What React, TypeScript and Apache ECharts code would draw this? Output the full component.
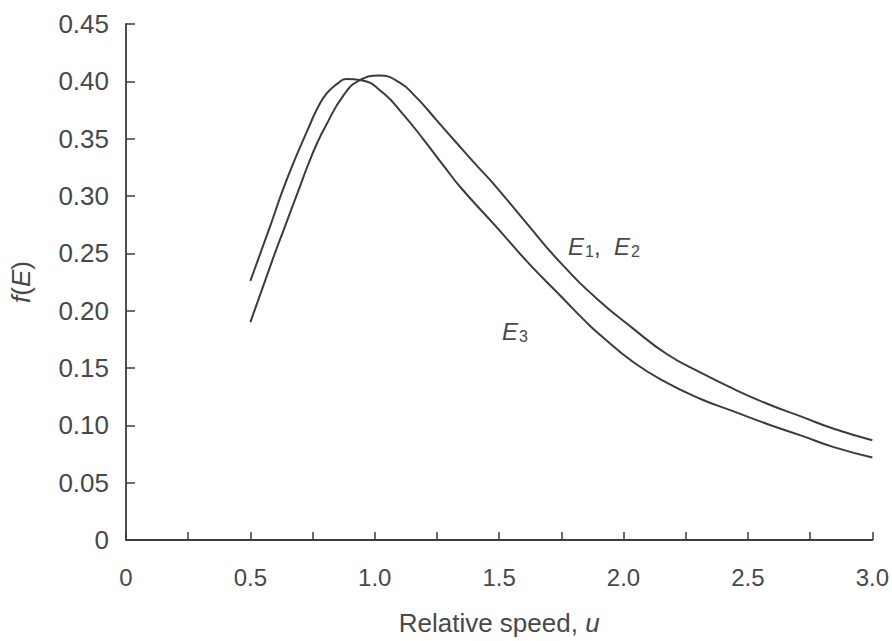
import React, { useEffect, useRef } from "react";
import * as echarts from "echarts";

// Relative speed u and f(E)
const speedE3 = [0.5, 0.58, 0.625, 0.675, 0.735, 0.766, 0.805, 0.85, 0.885, 0.945, 1.033, 1.115, 1.197, 1.278, 1.347, 1.485, 1.62, 1.755, 1.85, 1.905, 2.04, 2.175, 2.31, 2.445, 2.58, 2.715, 2.845, 3.0];
const fE3 = [0.226, 0.274, 0.302, 0.33, 0.36, 0.375, 0.389, 0.398, 0.402, 0.401, 0.39, 0.371, 0.349, 0.326, 0.307, 0.274, 0.241, 0.211, 0.19, 0.179, 0.155, 0.137, 0.123, 0.112, 0.101, 0.091, 0.081, 0.072];

const speedE12 = [0.5, 0.59, 0.64, 0.69, 0.735, 0.768, 0.8, 0.875, 0.94, 1.018, 1.099, 1.167, 1.249, 1.33, 1.412, 1.48, 1.615, 1.75, 1.895, 2.035, 2.175, 2.31, 2.44, 2.575, 2.71, 2.845, 3.0];
const fE12 = [0.19, 0.245, 0.274, 0.303, 0.329, 0.346, 0.36, 0.388, 0.401, 0.405, 0.399, 0.386, 0.366, 0.346, 0.326, 0.31, 0.275, 0.241, 0.21, 0.185, 0.162, 0.146, 0.132, 0.119, 0.108, 0.097, 0.087];

const xMin = 0;
const xMax = 3.0;
const xTickStep = 0.25;
const yMin = 0;
const yMax = 0.45;
const yTickStep = 0.05;

const xAxisTitle = "{n|Relative speed, }{i|u}";
const yAxisTitle = "{i|f}{n|(}{i|E}{n|)}";
const labelE12 = "{i|E}{s|1}{n|,  }{i|E}{s|2}";
const labelE3 = "{i|E}{s|3}";

const FONT = "'Liberation Sans', Arial, Helvetica, sans-serif";
const INK = "#3c3c3c";
const TEXT = "#484848";

export default function App() {
  const ref = useRef<HTMLDivElement>(null);

  useEffect(() => {
    if (!ref.current) return;
    const chart = echarts.init(ref.current, undefined, { renderer: "svg" });

    const zip = (xs: number[], ys: number[]) => xs.map((x, i) => [x, ys[i]]);

    const labelRich = {
      i: { fontStyle: "italic", fontSize: 24, fontFamily: FONT, fill: TEXT, color: TEXT },
      n: { fontSize: 24, fontFamily: FONT, fill: TEXT, color: TEXT },
      s: { fontSize: 16, fontFamily: FONT, fill: TEXT, color: TEXT, verticalAlign: "bottom", padding: [11, 0, 0, 1] },
    };

    chart.setOption({
      animation: false,
      backgroundColor: "#ffffff",
      grid: { left: 125, right: 19, top: 24, bottom: 95, containLabel: false },
      xAxis: {
        type: "value",
        min: xMin,
        max: xMax,
        interval: xTickStep,
        name: xAxisTitle,
        nameLocation: "middle",
        nameGap: 70,
        nameTextStyle: {
          rich: {
            n: { fontSize: 26, fontFamily: FONT, color: TEXT },
            i: { fontSize: 26, fontFamily: FONT, color: TEXT, fontStyle: "italic" },
          },
        },
        axisLine: { show: true, onZero: false, lineStyle: { color: INK, width: 1.8 } },
        axisTick: { show: true, inside: true, length: 8, lineStyle: { color: INK, width: 1.5 } },
        splitLine: { show: false },
        axisLabel: {
          margin: 25,
          fontSize: 24,
          fontFamily: FONT,
          color: TEXT,
          showMaxLabel: true,
          formatter: (v: number) => {
            const d = v * 2;
            if (Math.abs(d - Math.round(d)) > 1e-6) return "";
            return v === 0 ? "0" : v.toFixed(1);
          },
        },
      },
      yAxis: {
        type: "value",
        min: yMin,
        max: yMax,
        interval: yTickStep,
        name: yAxisTitle,
        nameLocation: "middle",
        nameGap: 92,
        nameRotate: 90,
        nameTextStyle: {
          rich: {
            n: { fontSize: 26, fontFamily: FONT, color: TEXT },
            i: { fontSize: 26, fontFamily: FONT, color: TEXT, fontStyle: "italic" },
          },
        },
        axisLine: { show: true, onZero: false, lineStyle: { color: INK, width: 1.8 } },
        axisTick: { show: true, inside: true, length: 9, lineStyle: { color: INK, width: 1.5 } },
        splitLine: { show: false },
        axisLabel: {
          margin: 17,
          fontSize: 26,
          fontFamily: FONT,
          color: TEXT,
          formatter: (v: number) => (v === 0 ? "0" : v.toFixed(2)),
        },
      },
      series: [
        {
          name: "E1, E2",
          type: "line",
          data: zip(speedE12, fE12),
          showSymbol: false,
          smooth: 0.5,
          lineStyle: { color: INK, width: 2 },
        },
        {
          name: "E3",
          type: "line",
          data: zip(speedE3, fE3),
          showSymbol: false,
          smooth: 0.5,
          lineStyle: { color: INK, width: 2 },
        },
      ],
      graphic: [
        {
          type: "text",
          left: 568,
          top: 234,
          style: { text: labelE12, rich: labelRich, fill: TEXT, fontFamily: FONT },
        },
        {
          type: "text",
          left: 502,
          top: 319,
          style: { text: labelE3, rich: labelRich, fill: TEXT, fontFamily: FONT },
        },
      ],
    });

    return () => chart.dispose();
  }, []);

  return (
    <div
      ref={ref}
      style={{ position: "fixed", left: 0, top: 0, width: 892, height: 641, background: "#fff" }}
    />
  );
}
